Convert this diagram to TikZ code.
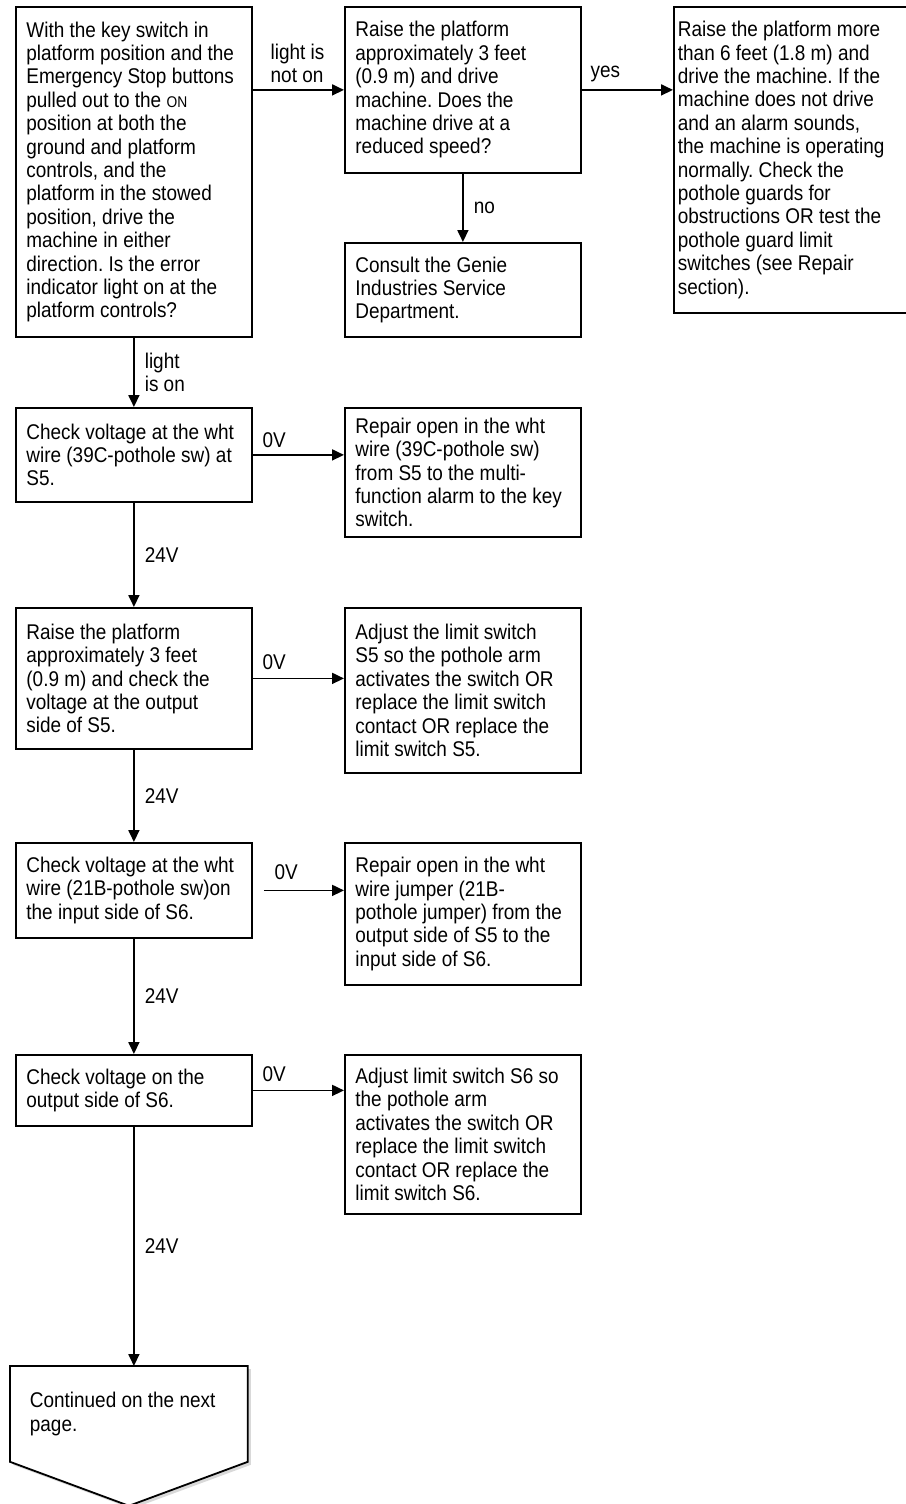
\documentclass[tikz,border=0pt]{standalone}
\usepackage{fontspec}
\setmainfont{Liberation Sans}[FakeStretch=0.89]
\usetikzlibrary{arrows.meta,shadows,backgrounds}
\newcommand\boxfont{\fontsize{21.3}{23.4}\selectfont\frenchspacing}
\newcommand\smallcapword[1]{{\fontsize{15.5}{15.5}\selectfont #1}}
\tikzset{
  stepbox/.style={draw, line width=1.8pt, anchor=north west, align=flush left, text width=215pt, inner xsep=10.5pt, inner ysep=3pt, font=\boxfont},
  flow/.style={line width=1.8pt, -{Triangle[length=12pt,width=11pt]}},
  lbl/.style={font=\boxfont, inner sep=0pt, align=flush left},
}
\begin{document}
\begin{tikzpicture}[x=1pt, y=-1pt]
\useasboundingbox (0,0) rectangle (905,1504);
% top row
\node[stepbox, minimum height=330pt] (keysw) at (15,6) {With the key switch in\\platform position and the\\Emergency Stop buttons\\pulled out to the \smallcapword{ON}\\position at both the\\ground and platform\\controls, and the\\platform in the stowed\\position, drive the\\machine in either\\direction. Is the error\\indicator light on at the\\platform controls?};
\node[stepbox, minimum height=166pt] (raise3ft) at (344,6) {Raise the platform\\approximately 3 feet\\(0.9 m) and drive\\machine. Does the\\machine drive at a\\reduced speed?};
\node[stepbox, minimum height=94pt] (genie) at (344,242) {Consult the Genie\\Industries Service\\Department.};
\node[stepbox, minimum height=306pt, text width=228pt, inner xsep=4pt] (raise6ft) at (673,6) {Raise the platform more\\than 6 feet (1.8 m) and\\drive the machine. If the\\machine does not drive\\and an alarm sounds,\\the machine is operating\\normally. Check the\\pothole guards for\\obstructions OR test the\\pothole guard limit\\switches (see Repair\\section).};
% voltage checks
\node[stepbox, minimum height=94pt] (chk39c) at (15,407) {Check voltage at the wht\\wire (39C-pothole sw) at\\S5.};
\node[stepbox, minimum height=129pt] (rep39c) at (344,407) {Repair open in the wht\\wire (39C-pothole sw)\\from S5 to the multi-\\function alarm to the key\\switch.};
\node[stepbox, minimum height=141pt] (outS5) at (15,607) {Raise the platform\\approximately 3 feet\\(0.9 m) and check the\\voltage at the output\\side of S5.};
\node[stepbox, minimum height=165pt] (adjS5) at (344,607) {Adjust the limit switch\\S5 so the pothole arm\\activates the switch OR\\replace the limit switch\\contact OR replace the\\limit switch S5.};
\node[stepbox, minimum height=95pt] (chk21b) at (15,842) {Check voltage at the wht\\wire (21B-pothole sw)on\\the input side of S6.};
\node[stepbox, minimum height=142pt] (rep21b) at (344,842) {Repair open in the wht\\wire jumper (21B-\\pothole jumper) from the\\output side of S5 to the\\input side of S6.};
\node[stepbox, minimum height=71pt] (outS6) at (15,1054) {Check voltage on the\\output side of S6.};
\node[stepbox, minimum height=159pt] (adjS6) at (344,1054) {Adjust limit switch S6 so\\the pothole arm\\activates the switch OR\\replace the limit switch\\contact OR replace the\\limit switch S6.};
% off-page connector
\node[stepbox, draw=none, minimum height=94pt, text width=198pt, inner xsep=19pt] (nextpg) at (10,1366) {Continued on the next\\page.};
\begin{scope}[on background layer]
\draw[line width=1.8pt, fill=white, drop shadow={shadow xshift=3pt, shadow yshift=-3pt, fill=black!15, opacity=1}]
  (nextpg.north west) -- (nextpg.north east) -- (nextpg.south east) -- ([yshift=-44pt]nextpg.south) -- (nextpg.south west) -- cycle;
\end{scope}
% connectors
\draw[flow] (keysw.east |- raise3ft.west) -- node[lbl, pos=0, anchor=south west, xshift=17pt, yshift=6pt] (lnoton) {light is\\not on} (raise3ft.west);
\draw[flow] (raise3ft.east) -- node[lbl, pos=0, anchor=south west, xshift=8pt, yshift=7pt] (lyes) {yes} (raise3ft.east -| raise6ft.west);
\draw[flow] (raise3ft) -- node[lbl, midway, anchor=west, xshift=10pt] (lno) {no} (genie);
\draw[flow] (keysw.south) -- node[lbl, midway, anchor=west, xshift=10pt] (lison) {light\\is on} (chk39c.north);
\draw[flow] (chk39c.east) -- node[lbl, pos=0, anchor=south west, xshift=9pt, yshift=6pt] (lzero1) {0V} (chk39c.east -| rep39c.west);
\draw[flow] (chk39c) -- node[lbl, midway, anchor=west, xshift=10pt] (lfull1) {24V} (outS5);
\draw[flow] (outS5.east) -- node[lbl, pos=0, anchor=south west, xshift=9pt, yshift=8pt] (lzero2) {0V} (outS5.east -| adjS5.west);
\draw[flow] (outS5) -- node[lbl, midway, anchor=west, xshift=10pt] (lfull2) {24V} (chk21b);
\draw[flow] ([xshift=11pt]chk21b.east) -- node[lbl, pos=0, anchor=south west, xshift=10pt, yshift=10pt] (lzero3) {0V} (chk21b.east -| rep21b.west);
\draw[flow] (chk21b) -- node[lbl, midway, anchor=west, xshift=10pt] (lfull3) {24V} (outS6);
\draw[flow] (outS6.east) -- node[lbl, pos=0, anchor=south west, xshift=9pt, yshift=8pt] (lzero4) {0V} (outS6.east -| adjS6.west);
\draw[flow] (outS6.south) -- node[lbl, midway, anchor=west, xshift=10pt] (lfull4) {24V} (outS6.south |- nextpg.north);
\end{tikzpicture}
\end{document}
